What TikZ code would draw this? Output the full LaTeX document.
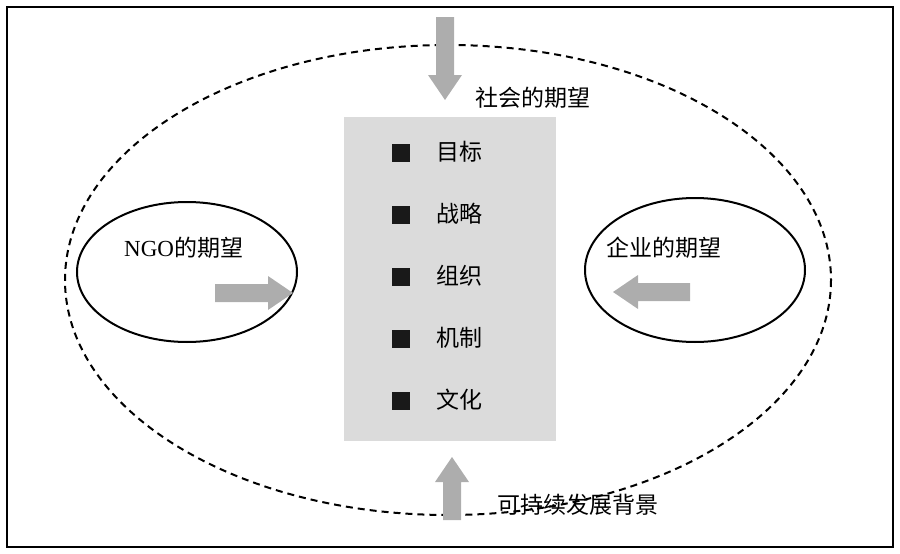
\documentclass[tikz,border=0pt]{standalone}
\usepackage{fontspec}
\usetikzlibrary{shapes.geometric}
\setmainfont{Liberation Serif}
\newfontfamily\cjk{Noto Sans CJK SC}
\begin{document}
\begin{tikzpicture}[x=1pt,y=-1pt,
  lbl/.style={font=\fontsize{23}{26}\selectfont\cjk, inner sep=0pt, anchor=west},
  sq/.style={fill=black!90, minimum size=18pt, inner sep=0pt},
  barrow/.style={fill=black!32, draw=none}]
\useasboundingbox (0,0) rectangle (900,554);
\draw[line width=1.5pt] (7,7) rectangle (893,547);
\draw[dash pattern=on 7pt off 5pt, line width=2pt] (448,280) ellipse [x radius=383, y radius=235];
\node[fill=black!14, minimum width=212pt, minimum height=324pt, inner sep=0pt] (box) at (450,279) {};
\foreach \i/\t in {0/目标,1/战略,2/组织,3/机制,4/文化}{
  \node[sq] (s\i) at (401,153+62*\i) {};
  \node[lbl] (t\i) at (436,152+62*\i) {\t};
}
\node[draw, line width=2pt, ellipse, minimum width=220pt, minimum height=140pt] (le) at (187,272) {};
\node[lbl] (ln) at (124,248) {{\rmfamily NGO}的期望};
\node[draw, line width=2pt, ellipse, minimum width=220pt, minimum height=144pt] (re) at (695,270) {};
\node[lbl] (rn) at (606,248) {企业的期望};
% arrows
\fill[barrow] (215,284) -- (268,284) -- (268,276) -- (293,293) -- (268,310) -- (268,302) -- (215,302) -- cycle;
\fill[barrow] (690,283) -- (638,283) -- (638,275) -- (613,292) -- (638,309) -- (638,301) -- (690,301) -- cycle;
\fill[barrow] (436,17) -- (454,17) -- (454,75) -- (462,75) -- (445,100) -- (428,75) -- (436,75) -- cycle;
\fill[barrow] (443,520) -- (461,520) -- (461,482) -- (469,482) -- (452,457) -- (435,482) -- (443,482) -- cycle;
\node[lbl] (top) at (475,98) {社会的期望};
\node[lbl] (bot) at (497,505) {可持续发展背景};
\end{tikzpicture}
\end{document}
